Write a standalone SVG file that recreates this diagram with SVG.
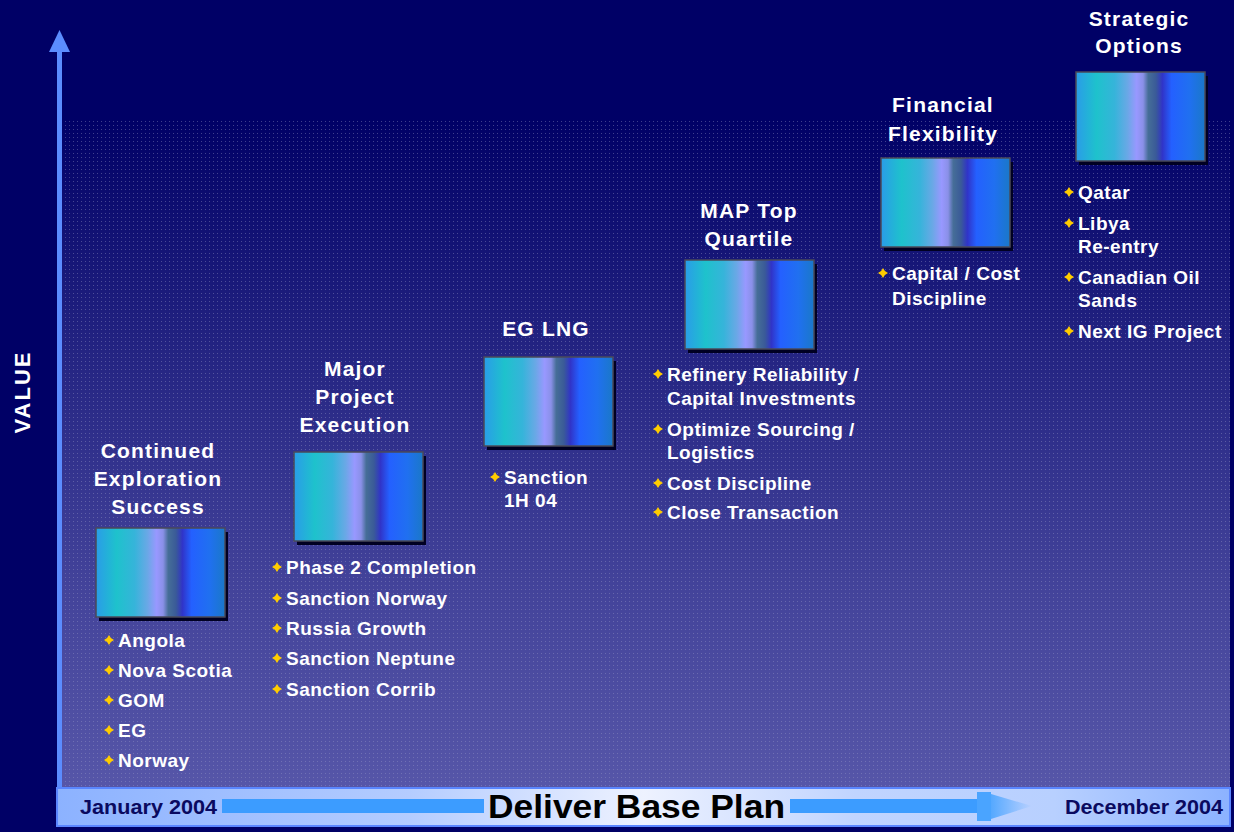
<svg xmlns="http://www.w3.org/2000/svg" width="1234" height="832" viewBox="0 0 1234 832">
  <defs>
    <linearGradient id="plotFill" x1="0" y1="0" x2="0" y2="1">
      <stop offset="0" stop-color="#000066"/>
      <stop offset="0.35" stop-color="#242482"/>
      <stop offset="0.7" stop-color="#43439a"/>
      <stop offset="1" stop-color="#5656a8"/>
    </linearGradient>
    <pattern id="dots" width="4" height="4" patternUnits="userSpaceOnUse">
      <rect x="1" y="1" width="1" height="1" fill="#9a9ac8" fill-opacity="0.4"/>
    </pattern>
    <linearGradient id="tileFill" x1="0" y1="0" x2="1" y2="0">
      <stop offset="0" stop-color="#2a9ce8"/>
      <stop offset="0.16" stop-color="#1ec2cc"/>
      <stop offset="0.3" stop-color="#36b4da"/>
      <stop offset="0.4" stop-color="#6aa8e6"/>
      <stop offset="0.47" stop-color="#9898ff"/>
      <stop offset="0.52" stop-color="#8a90e8"/>
      <stop offset="0.56" stop-color="#466e98"/>
      <stop offset="0.62" stop-color="#3a5a98"/>
      <stop offset="0.67" stop-color="#3034c8"/>
      <stop offset="0.74" stop-color="#2460ff"/>
      <stop offset="0.88" stop-color="#2070f0"/>
      <stop offset="1" stop-color="#1a78c8"/>
    </linearGradient>
    <linearGradient id="bandFill" x1="0" y1="0" x2="1" y2="0">
      <stop offset="0" stop-color="#8cb2ff"/>
      <stop offset="0.3" stop-color="#b4ccff"/>
      <stop offset="0.5" stop-color="#eef2ff"/>
      <stop offset="0.68" stop-color="#c0d4ff"/>
      <stop offset="0.85" stop-color="#b8d0ff"/>
      <stop offset="1" stop-color="#8cb2ff"/>
    </linearGradient>
    <linearGradient id="headFade" x1="0" y1="0" x2="1" y2="0">
      <stop offset="0" stop-color="#4aa4ff" stop-opacity="0.9"/>
      <stop offset="1" stop-color="#4aa4ff" stop-opacity="0"/>
    </linearGradient>
    <path id="star" d="M0,-5 L1.9,-1.9 L5,0 L1.9,1.9 L0,5 L-1.9,1.9 L-5,0 L-1.9,-1.9 Z"/>
  </defs>
  <style>
    .title { font-family: "Liberation Sans", Arial, sans-serif; font-weight: bold; font-size: 21px; fill: #ffffff; text-anchor: middle; letter-spacing: 1.2px; }
    .item { font-family: "Liberation Sans", Arial, sans-serif; font-weight: bold; font-size: 19px; fill: #ffffff; letter-spacing: 0.5px; }
    .tile { fill: url(#tileFill); stroke: #4a4a5a; stroke-width: 1.5; }
    .shadow { fill: #000022; }
    .bullet { fill: #ffcc00; }
    .date { font-family: "Liberation Sans", Arial, sans-serif; font-weight: bold; font-size: 21px; fill: #0a0a60; }
    .axisLabel { font-family: "Liberation Sans", Arial, sans-serif; font-weight: bold; font-size: 22px; fill: #ffffff; letter-spacing: 2px; text-anchor: middle; }
  </style>

  <!-- backdrop -->
  <rect x="0" y="0" width="1234" height="832" fill="#000066"/>
  <rect x="62" y="118" width="1168" height="670" fill="url(#plotFill)"/>
  <rect x="62" y="118" width="1168" height="670" fill="url(#dots)"/>

  <!-- axes and timeline -->
  <g id="connectors">
    <rect x="57" y="50" width="5" height="740" fill="#5b8cff"/>
    <polygon points="59.5,30 49,52 70,52" fill="#5b8cff"/>
    <rect x="57" y="788" width="1173" height="38" fill="url(#bandFill)" stroke="#5a86ff" stroke-width="2"/>
    <rect x="222" y="799" width="262" height="14" fill="#3c9cff"/>
    <rect x="790" y="799" width="190" height="14" fill="#3c9cff"/>
    <rect x="977" y="792" width="14" height="29" fill="#4aa4ff"/>
    <polygon points="991,794 1032,806 991,819" fill="url(#headFade)"/>
  </g>

  <g id="axis-labels">
    <text class="axisLabel" transform="translate(30,392) rotate(-90)">VALUE</text>
    <text class="date" x="80" y="814" textLength="137" lengthAdjust="spacingAndGlyphs">January 2004</text>
    <text class="date" x="1065" y="814" textLength="158" lengthAdjust="spacingAndGlyphs">December 2004</text>
    <text x="488" y="818" textLength="297" lengthAdjust="spacingAndGlyphs" font-family="'Liberation Sans', Arial, sans-serif" font-weight="bold" font-size="34" fill="#000000">Deliver Base Plan</text>
  </g>

  <!-- milestone 1 -->
  <g id="exploration">
    <text class="title" x="158" y="458">Continued</text>
    <text class="title" x="158" y="486">Exploration</text>
    <text class="title" x="158" y="514">Success</text>
    <rect class="shadow" x="99" y="532" width="129" height="89"/>
    <rect class="tile" x="96" y="528" width="129" height="89"/>
    <use href="#star" class="bullet" x="109" y="640"/>
    <text class="item" x="118" y="647">Angola</text>
    <use href="#star" class="bullet" x="109" y="670"/>
    <text class="item" x="118" y="677">Nova Scotia</text>
    <use href="#star" class="bullet" x="109" y="700"/>
    <text class="item" x="118" y="707">GOM</text>
    <use href="#star" class="bullet" x="109" y="730"/>
    <text class="item" x="118" y="737">EG</text>
    <use href="#star" class="bullet" x="109" y="760"/>
    <text class="item" x="118" y="767">Norway</text>
  </g>

  <!-- milestone 2 -->
  <g id="major-projects">
    <text class="title" x="355" y="376">Major</text>
    <text class="title" x="355" y="404">Project</text>
    <text class="title" x="355" y="432">Execution</text>
    <rect class="shadow" x="297" y="456" width="129" height="89"/>
    <rect class="tile" x="294" y="452" width="129" height="89"/>
    <use href="#star" class="bullet" x="277" y="567"/>
    <text class="item" x="286" y="574">Phase 2 Completion</text>
    <use href="#star" class="bullet" x="277" y="598"/>
    <text class="item" x="286" y="605">Sanction Norway</text>
    <use href="#star" class="bullet" x="277" y="628"/>
    <text class="item" x="286" y="635">Russia Growth</text>
    <use href="#star" class="bullet" x="277" y="658"/>
    <text class="item" x="286" y="665">Sanction Neptune</text>
    <use href="#star" class="bullet" x="277" y="689"/>
    <text class="item" x="286" y="696">Sanction Corrib</text>
  </g>

  <!-- milestone 3 -->
  <g id="eg-lng">
    <text class="title" x="546" y="336">EG LNG</text>
    <rect class="shadow" x="487" y="361" width="129" height="89"/>
    <rect class="tile" x="484" y="357" width="129" height="89"/>
    <use href="#star" class="bullet" x="495" y="477"/>
    <text class="item" x="504" y="484">Sanction</text>
    <text class="item" x="504" y="507">1H 04</text>
  </g>

  <!-- milestone 4 -->
  <g id="map-top-quartile">
    <text class="title" x="749" y="218">MAP Top</text>
    <text class="title" x="749" y="246">Quartile</text>
    <rect class="shadow" x="688" y="264" width="129" height="89"/>
    <rect class="tile" x="685" y="260" width="129" height="89"/>
    <use href="#star" class="bullet" x="658" y="374"/>
    <text class="item" x="667" y="381">Refinery Reliability /</text>
    <text class="item" x="667" y="405">Capital Investments</text>
    <use href="#star" class="bullet" x="658" y="429"/>
    <text class="item" x="667" y="436">Optimize Sourcing /</text>
    <text class="item" x="667" y="459">Logistics</text>
    <use href="#star" class="bullet" x="658" y="483"/>
    <text class="item" x="667" y="490">Cost Discipline</text>
    <use href="#star" class="bullet" x="658" y="512"/>
    <text class="item" x="667" y="519">Close Transaction</text>
  </g>

  <!-- milestone 5 -->
  <g id="financial-flexibility">
    <text class="title" x="943" y="112">Financial</text>
    <text class="title" x="943" y="141">Flexibility</text>
    <rect class="shadow" x="884" y="162" width="129" height="89"/>
    <rect class="tile" x="881" y="158" width="129" height="89"/>
    <use href="#star" class="bullet" x="883" y="273"/>
    <text class="item" x="892" y="280">Capital / Cost</text>
    <text class="item" x="892" y="305">Discipline</text>
  </g>

  <!-- milestone 6 -->
  <g id="strategic-options">
    <text class="title" x="1139" y="26">Strategic</text>
    <text class="title" x="1139" y="53">Options</text>
    <rect class="shadow" x="1079" y="76" width="129" height="89"/>
    <rect class="tile" x="1076" y="72" width="129" height="89"/>
    <use href="#star" class="bullet" x="1069" y="192"/>
    <text class="item" x="1078" y="199">Qatar</text>
    <use href="#star" class="bullet" x="1069" y="223"/>
    <text class="item" x="1078" y="230">Libya</text>
    <text class="item" x="1078" y="253">Re-entry</text>
    <use href="#star" class="bullet" x="1069" y="277"/>
    <text class="item" x="1078" y="284">Canadian Oil</text>
    <text class="item" x="1078" y="307">Sands</text>
    <use href="#star" class="bullet" x="1069" y="331"/>
    <text class="item" x="1078" y="338">Next IG Project</text>
  </g>
</svg>
